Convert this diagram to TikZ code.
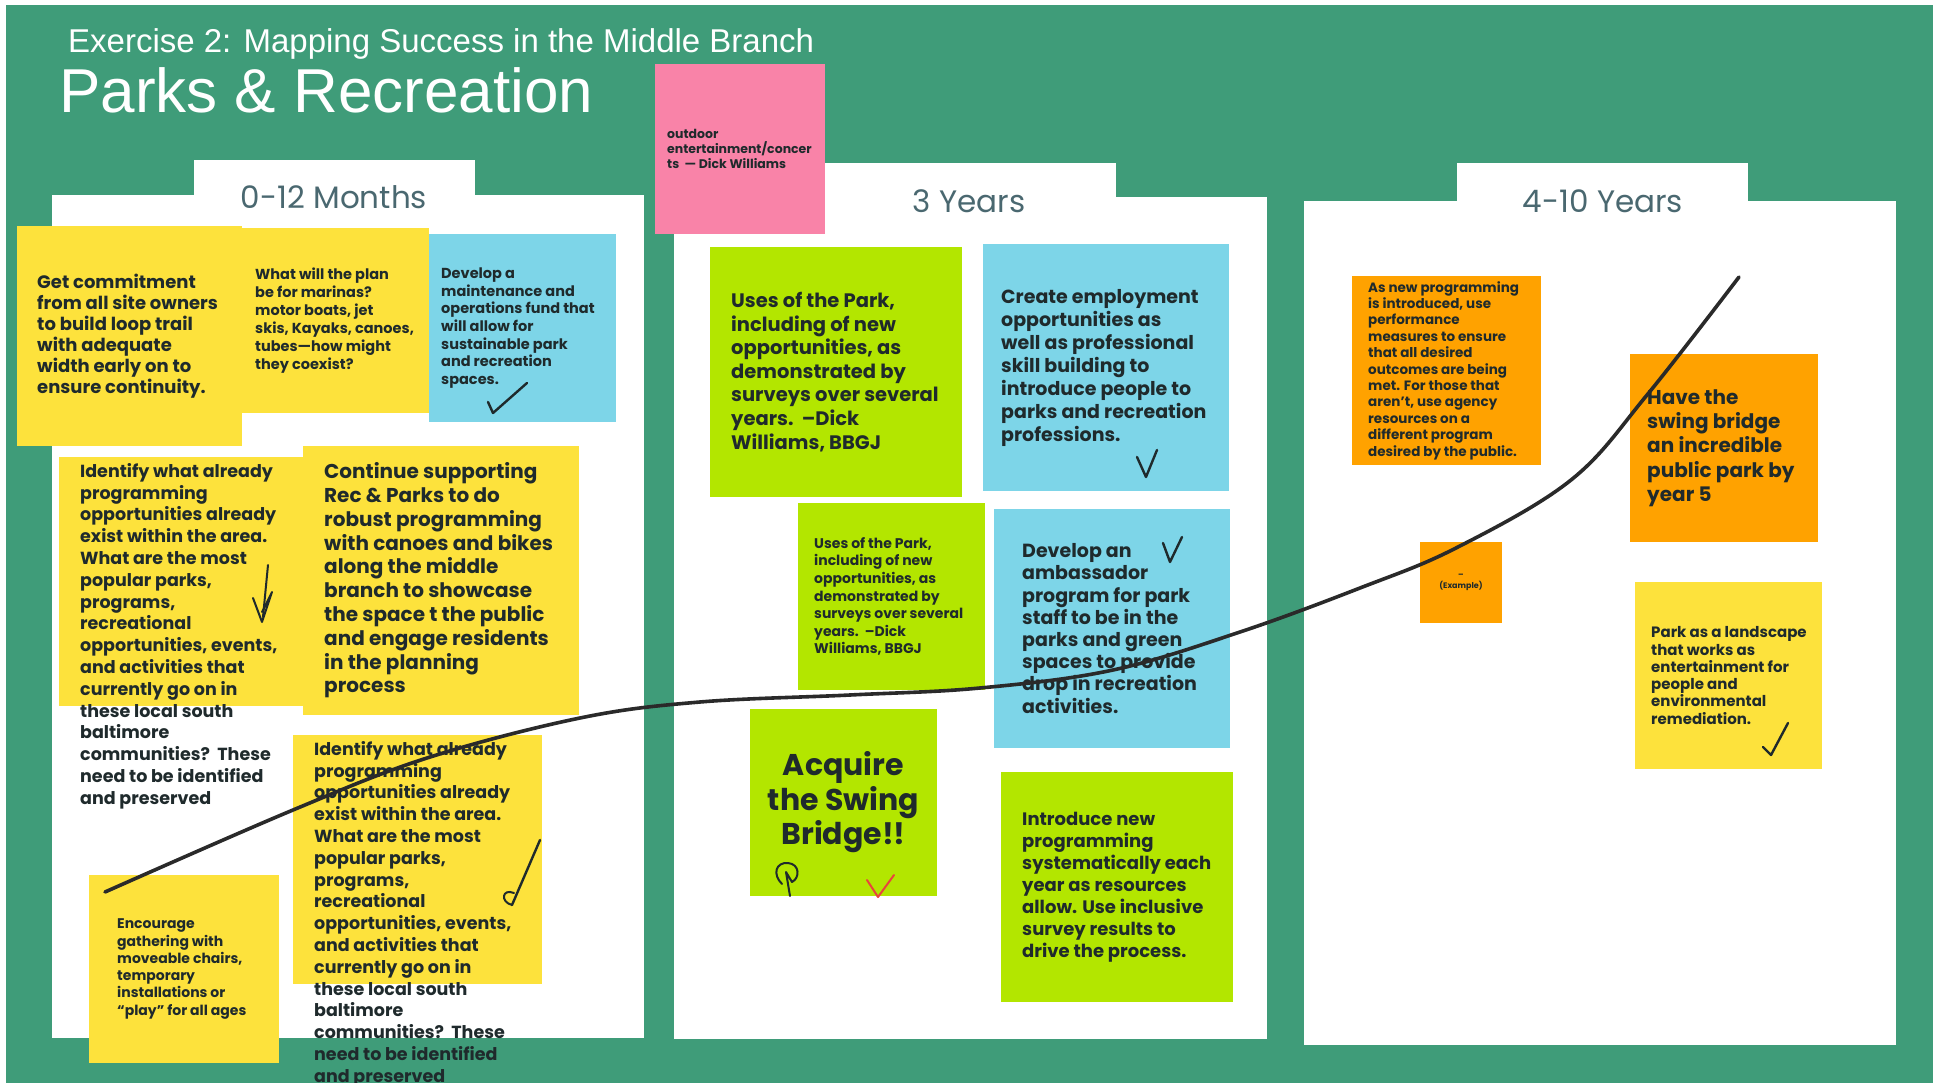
\documentclass[tikz,border=0pt]{standalone}
\usepackage{fontspec}
\setmainfont{Poppins}
\newfontfamily\titlefont{Liberation Sans}
\usetikzlibrary{positioning}
\definecolor{board}{HTML}{3F9C79}
\definecolor{yel}{HTML}{FDE23C}
\definecolor{lime}{HTML}{B3E600}
\definecolor{sky}{HTML}{7DD5E8}
\definecolor{amber}{HTML}{FFA200}
\definecolor{rose}{HTML}{F983A8}
\definecolor{ink}{HTML}{1F2A2C}
\definecolor{slate}{HTML}{4A6870}
\definecolor{pen}{HTML}{2A2A2A}
\definecolor{redpen}{HTML}{E8453C}
\newcommand{\fsz}[2]{\fontsize{#1}{#2}\selectfont}

\begin{document}
\begin{tikzpicture}[
    x=1pt, y=-1pt,
    note/.style={anchor=north west, inner sep=0pt, outer sep=0pt},
    txt/.style n args={2}{inner sep=0pt, align=left, text=ink, font=\bfseries\fsz{#1}{#2}},
    head/.style={text=slate, inner sep=0pt, font=\fsz{31}{34}},
    tick/.style={draw=ink, line width=2.4pt, line cap=round, line join=round},
    trail/.style={draw=pen, line width=3.6pt, line cap=round}
  ]
  \useasboundingbox (0,0) rectangle (1933,1083);
  \fill[white] (0,0) rectangle (1933,1083);
  \fill[board] (6,5) rectangle (1933,1083);

  % titles
  \node[anchor=base west, inner sep=0pt, text=white, font=\titlefont\fsz{33}{36}] (exercise) at (68,53)
    {Exercise 2: Mapping Success in the Middle Branch};
  \node[anchor=base west, inner sep=0pt, text=white, font=\titlefont\fsz{62}{66}] (parks) at (59,113)
    {Parks \& Recreation};

  % the three columns
  \fill[white] (194,160) rectangle (475,200);
  \fill[white] (52,195) rectangle (644,1038);
  \fill[white] (820,163) rectangle (1116,200);
  \fill[white] (674,197) rectangle (1267,1039);
  \fill[white] (1457,163) rectangle (1748,205);
  \fill[white] (1304,201) rectangle (1896,1045);
  \node[head] (first) at (334,197) {0-12 Months};
  \node[head] (second) at (969,201) {3 Years};
  \node[head] (third) at (1603,201) {4-10 Years};

  % 0-12 months
  \node[note, fill=yel, minimum width=225pt, minimum height=220pt] (commit) at (17,226) {};
  \node[txt={18}{21}, right=20pt of commit.west] (commitT)
    {Get commitment\\from all site owners\\to build loop trail\\with adequate\\width early on to\\ensure continuity.};
  \node[note, fill=yel, minimum width=187pt, minimum height=185pt] (marinas) at (242,228) {};
  \node[txt={14.5}{18}, right=13pt of marinas.west] (marinasT)
    {What will the plan\\be for marinas?\\motor boats, jet\\skis, Kayaks, canoes,\\tubes---how might\\they coexist?};
  \node[note, fill=sky, minimum width=187pt, minimum height=188pt] (fund) at (429,234) {};
  \node[txt={14.5}{17.6}, right=12pt of fund.west] (fundT)
    {Develop a\\maintenance and\\operations fund that\\will allow for\\sustainable park\\and recreation\\spaces.};
  \node[note, fill=yel, minimum width=249pt, minimum height=249pt] (identify) at (59,457) {};
  \node[txt={17.5}{21.8}, below right=6pt and 21pt of identify.north west] (identifyT)
    {Identify what already\\programming\\opportunities already\\exist within the area.\\What are the most\\popular parks,\\programs,\\recreational\\opportunities, events,\\and activities that\\currently go on in\\these local south\\baltimore\\communities?~~These\\need to be identified\\and preserved};
  \node[note, fill=yel, minimum width=276pt, minimum height=269pt] (support) at (303,446) {};
  \node[txt={20}{23.8}, right=21pt of support.west] (supportT)
    {Continue supporting\\Rec \& Parks to do\\robust programming\\with canoes and bikes\\along the middle\\branch to showcase\\the space t the public\\and engage residents\\in the planning\\process};
  \node[note, fill=yel, minimum width=249pt, minimum height=249pt] (again) at (293,735) {};
  \node[txt={17.5}{21.8}, below right=6pt and 21pt of again.north west] (againT)
    {Identify what already\\programming\\opportunities already\\exist within the area.\\What are the most\\popular parks,\\programs,\\recreational\\opportunities, events,\\and activities that\\currently go on in\\these local south\\baltimore\\communities?~~These\\need to be identified\\and preserved};
  \node[note, fill=yel, minimum width=190pt, minimum height=188pt] (gather) at (89,875) {};
  \node[txt={14}{17.3}, right=28pt of gather.west] (gatherT)
    {Encourage\\gathering with\\moveable chairs,\\temporary\\installations or\\``play'' for all ages};

  % 3 years
  \node[note, fill=rose, minimum width=170pt, minimum height=170pt] (concert) at (655,64) {};
  \node[txt={12.5}{14.8}, right=12pt of concert.west] (concertT)
    {outdoor\\entertainment/concer\\ts~~--- Dick Williams};
  \node[note, fill=lime, minimum width=252pt, minimum height=250pt] (uses) at (710,247) {};
  \node[txt={19.5}{23.6}, right=21pt of uses.west] (usesT)
    {Uses of the Park,\\including of new\\opportunities, as\\demonstrated by\\surveys over several\\years.~~--Dick\\Williams, BBGJ};
  \node[note, fill=sky, minimum width=246pt, minimum height=247pt] (employ) at (983,244) {};
  \node[txt={19}{23}, right=18pt of employ.west] (employT)
    {Create employment\\opportunities as\\well as professional\\skill building to\\introduce people to\\parks and recreation\\professions.};
  \node[note, fill=lime, minimum width=187pt, minimum height=187pt] (usesb) at (798,503) {};
  \node[txt={14}{17.6}, right=16pt of usesb.west] (usesbT)
    {Uses of the Park,\\including of new\\opportunities, as\\demonstrated by\\surveys over several\\years.~~--Dick\\Williams, BBGJ};
  \node[note, fill=sky, minimum width=236pt, minimum height=239pt] (ambass) at (994,509) {};
  \node[txt={19}{22.2}, right=28pt of ambass.west] (ambassT)
    {Develop an\\ambassador\\program for park\\staff to be in the\\parks and green\\spaces to provide\\drop in recreation\\activities.};
  \node[note, fill=lime, minimum width=187pt, minimum height=187pt] (bridge) at (750,709) {};
  \node[txt={30}{34.5}, align=center] (bridgeT) at (bridge.center)
    {Acquire\\the Swing\\Bridge!!};
  \node[note, fill=lime, minimum width=232pt, minimum height=230pt] (intro) at (1001,772) {};
  \node[txt={18}{22}, right=21pt of intro.west] (introT)
    {Introduce new\\programming\\systematically each\\year as resources\\allow. Use inclusive\\survey results to\\drive the process.};

  % 4-10 years
  \node[note, fill=amber, minimum width=189pt, minimum height=189pt] (measure) at (1352,276) {};
  \node[txt={13.5}{16.4}, right=16pt of measure.west] (measureT)
    {As new programming\\is introduced, use\\performance\\measures to ensure\\that all desired\\outcomes are being\\met. For those that\\aren't, use agency\\resources on a\\different program\\desired by the public.};
  \node[note, fill=amber, minimum width=188pt, minimum height=188pt] (yearfive) at (1630,354) {};
  \node[txt={20}{24.3}, right=17pt of yearfive.west] (yearfiveT)
    {Have the\\swing bridge\\an incredible\\public park by\\year 5};
  \node[note, fill=amber, minimum width=82pt, minimum height=81pt] (example) at (1420,542) {};
  \node[txt={8}{11}, align=center] (exampleT) at (example.center) {--\\(Example)};
  \node[note, fill=yel, minimum width=187pt, minimum height=187pt] (landscape) at (1635,582) {};
  \node[txt={15}{17.3}, right=16pt of landscape.west] (landscapeT)
    {Park as a landscape\\that works as\\entertainment for\\people and\\environmental\\remediation.};

  % hand marks
  \draw[tick] (488,402) -- (493,413) -- (527,383);
  \draw[tick, line width=2pt] (268,565) -- (263,617);
  \draw[tick, line width=2pt] (253,598) -- (262,622) -- (272,592) -- (262,612);
  \draw[tick] (540,840) -- (512,905);
  \draw[tick, line width=2pt] (512,905) .. controls (500,902) and (502,888) .. (514,893);
  \draw[tick] (1137,457) -- (1146,477) -- (1157,450);
  \draw[tick] (1163,543) -- (1170,562) -- (1182,537);
  \draw[tick] (1763,747) -- (1771,755) -- (1788,723);
  \draw[tick, draw=redpen, line width=2pt] (867,880) -- (878,897) -- (894,875);
  \draw[tick, line width=2pt] (782,884) .. controls (772,874) and (776,862) .. (788,863)
    .. controls (800,864) and (800,878) .. (792,882) -- (786,872) -- (790,896);

  % progress line
  \draw[trail] plot[smooth, tension=0.6] coordinates {(105,892) (293,810) (427,758) (580,718)
    (700,702) (850,695) (980,688) (1113,670) (1240,632) (1360,588) (1456,548) (1571,480)
    (1647,395) (1739,277)};
\end{tikzpicture}
\end{document}
